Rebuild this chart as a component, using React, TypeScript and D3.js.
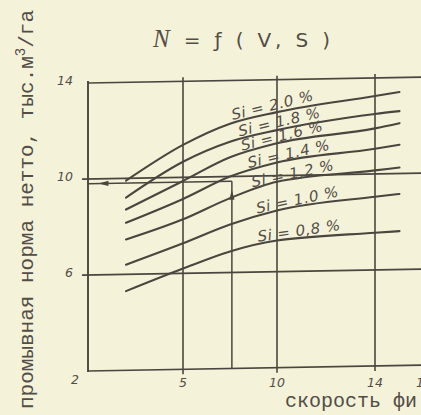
import React from "react";
import * as d3 from "d3";

// ---- data ----
const speedTicks = [5, 10, 14, 16];
const speedTickLabels = ["5", "10", "14", "16"];
const normTicks = [14, 10, 6, 2];
const normTickLabels = ["14", "10", "6", "2"];
const gridNorms = [14, 10, 6, 2];
const gridSpeeds = [5, 10, 14];

const speedV = [2, 5, 7.5, 10, 14, 15];
const s20 = [9.9, 11.35, 12.2, 12.65, 13.25, 13.4];
const s18 = [9.2, 10.65, 11.45, 11.9, 12.5, 12.6];
const s16 = [8.7, 9.85, 10.8, 11.35, 11.9, 12.1];
const s14 = [8.15, 9.1, 10.0, 10.55, 11.05, 11.2];
const s12 = [7.45, 8.25, 9.1, 9.75, 10.15, 10.25];
const s10 = [6.4, 7.25, 8.0, 8.55, 9.05, 9.15];
const s08 = [5.3, 6.2, 6.88, 7.3, 7.55, 7.6];
const salinityLabels = [
  "Si = 2.0 %",
  "Si = 1.8 %",
  "Si = 1.6 %",
  "Si = 1.4 %",
  "Si = 1,2 %",
  "Si = 1.0 %",
  "Si = 0,8 %",
];

const exampleV = 7.6;
const exampleN = 9.8;

const titleN = "N";
const titleRest = " = ƒ ( V, S )";
const yTitle = "промывная норма нетто, тыс.м";
const yTitleSup = "3";
const yTitleEnd = "/га";
const xTitle = "скорость фи";

export default function App() {
  const W = 421;
  const H = 415;
  const bg = "#f5f2da";
  const ink = "#4a463f";
  const textInk = "#524e47";

  const x = d3.scaleLinear().domain([0, 5, 10, 14]).range([88, 183, 277, 375]);
  const y = d3.scaleLinear().domain([2, 14]).range([371, 83]);
  const xMax = 16.2;
  const x0 = x(0);

  const series = [s20, s18, s16, s14, s12, s10, s08];
  const labelStart = [7.65, 8.0, 8.15, 8.5, 8.7, 8.95, 9.0];

  const line = d3
    .line<[number, number]>()
    .x((d) => x(d[0]))
    .y((d) => y(d[1]))
    .curve(d3.curveMonotoneX);

  const skew = `translate(${x0},0) skewY(-1) translate(${-x0},0)`;

  // arrowheads
  const ax = x(exampleV);
  const upTip = y(9.45);
  const upArrow = `${ax},${upTip} ${ax - 2.6},${upTip + 10} ${ax + 2.6},${upTip + 10}`;
  const ly = y(exampleN);
  const leftTip = x(0.55);
  const leftArrow = `${leftTip},${ly} ${leftTip + 10},${ly - 2.6} ${leftTip + 10},${ly + 2.6}`;

  return (
    <svg
      width={W}
      height={H}
      style={{ position: "absolute", left: 0, top: 0, background: bg }}
    >
      <rect x={0} y={0} width={W} height={H} fill={bg} />
      <g transform={skew}>
        {gridNorms.map((n) => (
          <line
            key={"h" + n}
            x1={n === 10 || n === 6 ? x0 - 6 : x0}
            x2={x(xMax)}
            y1={y(n)}
            y2={y(n)}
            stroke={ink}
            strokeWidth={1.7}
          />
        ))}
        <line x1={x0} x2={x0} y1={y(14) - 2} y2={y(2) + 1} stroke={ink} strokeWidth={1.9} />
        {gridSpeeds.map((v) => (
          <line
            key={"v" + v}
            x1={x(v)}
            x2={x(v)}
            y1={y(14) - 4}
            y2={y(2) + 5}
            stroke={ink}
            strokeWidth={1.6}
          />
        ))}
        <line x1={ax} x2={ax} y1={y(2)} y2={y(exampleN)} stroke={ink} strokeWidth={1.5} />
        <line x1={x0} x2={ax} y1={ly} y2={ly} stroke={ink} strokeWidth={1.5} />
        <polygon points={upArrow} fill={ink} />
        <polygon points={leftArrow} fill={ink} />
        {series.map((vals, i) => (
          <path
            key={"c" + i}
            d={line(speedV.map((v, j) => [v, vals[j]] as [number, number])) || ""}
            fill="none"
            stroke={ink}
            strokeWidth={2.1}
            strokeLinecap="round"
          />
        ))}
        {series.map((vals, i) => {
          const f = d3.scaleLinear().domain(speedV).range(vals);
          const vs = labelStart[i];
          const ve = vs + 4;
          const px = x(vs);
          const py = y(f(vs));
          const qx = x(ve);
          const qy = y(f(ve));
          const ang = (Math.atan2(qy - py, qx - px) * 180) / Math.PI - 2;
          return (
            <text
              key={"l" + i}
              transform={`translate(${px},${py - 3}) rotate(${ang})`}
              fontFamily="'DejaVu Sans', sans-serif"
              fontStyle="italic"
              fontSize={15}
              letterSpacing={0.5}
              fill={textInk}
            >
              {salinityLabels[i]}
            </text>
          );
        })}
      </g>

      {normTicks.map((n, i) => (
        <text
          key={"yt" + n}
          x={n === 2 ? 79 : 73}
          y={n === 2 ? y(n) + 13 : y(n) + 2}
          textAnchor="end"
          fontFamily="'DejaVu Sans', sans-serif"
          fontStyle="italic"
          fontSize={12.5}
          fill={textInk}
        >
          {normTickLabels[i]}
        </text>
      ))}
      {speedTicks.map((v, i) => (
        <text
          key={"xt" + v}
          x={x(v)}
          y={387}
          textAnchor="middle"
          fontFamily="'DejaVu Sans', sans-serif"
          fontStyle="italic"
          fontSize={12.5}
          fill={textInk}
        >
          {speedTickLabels[i]}
        </text>
      ))}

      <text
        x={153}
        y={47}
        fontFamily="'DejaVu Sans', sans-serif"
        fontSize={20}
        fill={textInk}
        textLength={177}
        lengthAdjust="spacing"
      >
        <tspan fontFamily="'Liberation Serif', serif" fontStyle="italic" fontSize={25}>
          {titleN}
        </tspan>
        {titleRest}
      </text>

      <text
        transform={`translate(33,409) rotate(-90)`}
        fontFamily="'Liberation Mono', monospace"
        fontSize={21}
        fill={textInk}
      >
        {yTitle}
        <tspan fontSize={14} dy={-8}>
          {yTitleSup}
        </tspan>
        <tspan fontSize={21} dy={8}>
          {yTitleEnd}
        </tspan>
      </text>

      <text
        x={285}
        y={407}
        fontFamily="'Liberation Mono', monospace"
        fontSize={20}
        fill={textInk}
      >
        {xTitle}
      </text>
    </svg>
  );
}
